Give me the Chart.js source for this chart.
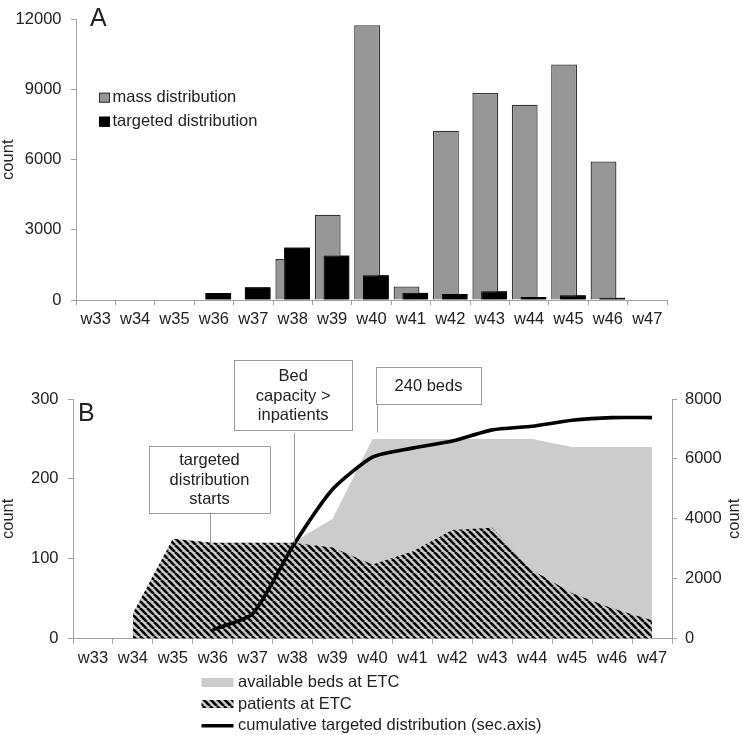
<!DOCTYPE html>
<html><head><meta charset="utf-8">
<script src="https://cdn.jsdelivr.net/npm/chart.js@4.4.1/dist/chart.umd.min.js"></script>
<style>
html,body{margin:0;padding:0;background:#fff;width:743px;height:735px;overflow:hidden}
#a{position:absolute;left:0;top:0}
#b{position:absolute;left:0;top:335px}
</style></head><body>
<canvas id="a" width="743" height="335"></canvas>
<canvas id="b" width="743" height="400"></canvas>
<script>
// ---------- data ----------
const weeks = ['w33','w34','w35','w36','w37','w38','w39','w40','w41','w42','w43','w44','w45','w46','w47'];
const massDistribution     = [null,null,null,null,null,1750,3650,11750,580,7240,8850,8350,10075,5920,null];
const targetedDistribution = [null,null,null,300,540,2250,1900,1060,310,260,370,130,200,100,null];
const availableBeds        = [null,30,120,120,120,120,150,250,250,250,250,250,240,240,240];
const patientsAtETC        = [null,32,125,120,120,120,114,93,109,136,139,86,57,38,23];
const cumulativeTargeted   = [null,null,null,300,830,3080,4990,6060,6360,6600,6970,7090,7290,7380,7380];
const yTicksA  = [0,3000,6000,9000,12000];
const yTicksB  = [0,100,200,300];
const y2TicksB = [0,2000,4000,6000,8000];

const FONT = '"Liberation Sans", Arial, sans-serif';
const FS = 16.5;
const TXT = '#222';
const AXIS = '#a3a3a3';
Chart.defaults.font.family = FONT;
Chart.defaults.font.size = FS;
Chart.defaults.color = TXT;

// hatch pattern
function makeHatch(){
  const P = 7;
  const c = document.createElement('canvas'); c.width = P; c.height = P;
  const g = c.getContext('2d');
  g.fillStyle = '#cacaca'; g.fillRect(0,0,P,P);
  g.strokeStyle = '#000'; g.lineWidth = 2.6;
  for (const o of [-P,0,P]) { g.beginPath(); g.moveTo(o,0); g.lineTo(o+P,P); g.stroke(); }
  return g.createPattern(c,'repeat');
}
const hatch = makeHatch();

function setTicks(arr){ return s => { s.ticks = arr.map(v => ({value:v})); }; }
const plain = v => String(v);
const gridOpts = {drawOnChartArea:false, color:AXIS, tickLength:5, lineWidth:1};

// ---------- Chart A ----------
const OFF_B = 335;
new Chart(document.getElementById('a'), {
  type:'bar',
  data:{labels:weeks, datasets:[
    {label:'mass distribution', data:massDistribution, backgroundColor:'#969696', borderColor:'#333', borderWidth:1.3,
     categoryPercentage:0.445, barPercentage:2.95},
    {label:'targeted distribution', data:targetedDistribution, backgroundColor:'#000', borderColor:'#000', borderWidth:1,
     categoryPercentage:0.445, barPercentage:2.95}
  ]},
  options:{
    responsive:false, animation:false, devicePixelRatio:1,
    layout:{autoPadding:false, padding:{top:7, left:0, right:76, bottom:0}},
    plugins:{legend:{display:false}, tooltip:{enabled:false}},
    scales:{
      x:{offset:true, grid:{...gridOpts, offset:true}, border:{color:AXIS},
         ticks:{padding:5, color:TXT, maxRotation:0, autoSkip:false},
         afterFit:s=>{s.height=35;}},
      y:{min:0, max:12000, grid:gridOpts, border:{color:AXIS},
         ticks:{padding:9.5, color:TXT, callback:plain}, afterBuildTicks:setTicks(yTicksA),
         title:{display:true, text:'count', color:TXT, padding:0, font:{size:FS, lineHeight:1}},
         afterFit:s=>{s.width=76;}}
    }
  },
  plugins:[{
    id:'topA',
    afterDatasetsDraw(chart){
      // targeted bars overlap the mass bars in front
      chart.getDatasetMeta(1).controller.draw();
    },
    afterDraw(chart){
      const ctx = chart.ctx; ctx.save();
      ctx.fillStyle = TXT; ctx.font = '25px ' + FONT; ctx.textBaseline = 'alphabetic';
      ctx.fillText('A', 90, 26);
      // legend
      const items = [['mass distribution','#969696','#333',97.7],['targeted distribution','#000','#000',121.7]];
      ctx.font = FS + 'px ' + FONT; ctx.textBaseline = 'middle';
      for (const [t,f,s,y] of items){
        ctx.fillStyle = f; ctx.fillRect(99, y-5, 11, 10);
        ctx.strokeStyle = s; ctx.lineWidth = 1; ctx.strokeRect(99.5, y-4.5, 10, 9);
        ctx.fillStyle = TXT; ctx.fillText(t, 112.5, y);
      }
      ctx.restore();
    }
  }]
});

// ---------- Chart B ----------
const boxes = [
  {lines:['targeted','distribution','starts'], x1:149, y1:445.7, x2:270, y2:512.3, lx:210, ly:512.3, anchor:120},
  {lines:['Bed','capacity >','inpatients'], x1:234, y1:360, x2:352.3, y2:430, lx:294, ly:433, anchor:120},
  {lines:['240 beds'], x1:376, y1:367.3, x2:481, y2:404, lx:376.5, ly:404, anchor:258}
];

new Chart(document.getElementById('b'), {
  type:'line',
  data:{labels:weeks, datasets:[
    {label:'cumulative targeted distribution (sec.axis)', data:cumulativeTargeted, yAxisID:'y2',
     borderColor:'#000', borderWidth:3.6, pointRadius:0, tension:0.2, fill:false, order:0},
    {label:'patients at ETC', data:patientsAtETC, yAxisID:'y', borderColor:'rgba(0,0,0,0)', borderWidth:0,
     pointRadius:0, tension:0, fill:'origin', backgroundColor:hatch, order:1},
    {label:'available beds at ETC', data:availableBeds, yAxisID:'y', borderColor:'rgba(0,0,0,0)', borderWidth:0,
     pointRadius:0, tension:0, fill:'origin', backgroundColor:'#cccccc', order:2}
  ]},
  options:{
    responsive:false, animation:false, devicePixelRatio:1,
    layout:{autoPadding:false, padding:{top:64, left:0, right:0, bottom:0}},
    plugins:{legend:{display:false}, tooltip:{enabled:false}},
    scales:{
      x:{offset:true, grid:{...gridOpts, offset:true}, border:{color:AXIS},
         ticks:{padding:5, color:TXT, maxRotation:0, autoSkip:false},
         afterFit:s=>{s.height=96.3;}},
      y:{position:'left', min:0, max:300, grid:gridOpts, border:{color:AXIS},
         ticks:{padding:9.5, color:TXT, callback:plain}, afterBuildTicks:setTicks(yTicksB),
         title:{display:true, text:'count', color:TXT, padding:0, font:{size:FS, lineHeight:1}},
         afterFit:s=>{s.width=73;}},
      y2:{position:'right', min:0, max:8000, grid:gridOpts, border:{color:AXIS},
         ticks:{padding:8, color:TXT, callback:plain}, afterBuildTicks:setTicks(y2TicksB),
         afterFit:s=>{s.width=71;}}
    }
  },
  plugins:[{
    id:'decoB',
    afterDraw(chart){
      const ctx = chart.ctx; const ys = chart.scales.y; ctx.save();
      // panel letter
      ctx.fillStyle = TXT; ctx.font = '25px ' + FONT; ctx.textBaseline = 'alphabetic';
      ctx.fillText('B', 78, 421 - OFF_B);
      // right axis title
      ctx.font = FS + 'px ' + FONT;
      ctx.save(); ctx.translate(734, (chart.chartArea.top + chart.chartArea.bottom)/2);
      ctx.rotate(-Math.PI/2); ctx.textAlign = 'center'; ctx.textBaseline = 'middle';
      ctx.fillText('count', 0, 0); ctx.restore();
      // annotation boxes
      for (const b of boxes){
        ctx.strokeStyle = '#9a9a9a'; ctx.lineWidth = 1;
        ctx.beginPath();
        ctx.moveTo(Math.round(b.lx)+0.5, b.ly - OFF_B);
        ctx.lineTo(Math.round(b.lx)+0.5, ys.getPixelForValue(b.anchor));
        ctx.stroke();
        ctx.fillStyle = '#fff';
        ctx.fillRect(b.x1, b.y1 - OFF_B, b.x2-b.x1, b.y2-b.y1);
        ctx.strokeRect(Math.round(b.x1)+0.5, Math.round(b.y1 - OFF_B)+0.5, Math.round(b.x2-b.x1), Math.round(b.y2-b.y1));
        ctx.fillStyle = TXT; ctx.textAlign = 'center'; ctx.textBaseline = 'middle';
        const cx = (b.x1+b.x2)/2, cy = (b.y1+b.y2)/2 - OFF_B, lh = 19.3;
        b.lines.forEach((t,i)=>ctx.fillText(t, cx, cy + (i-(b.lines.length-1)/2)*lh + 1));
      }
      // legend
      ctx.textAlign = 'left'; ctx.textBaseline = 'middle';
      const lx = 201.5, lw = 32, tx = 238;
      ctx.fillStyle = '#cccccc'; ctx.fillRect(lx, 678 - OFF_B, lw, 9);
      ctx.fillStyle = hatch; ctx.fillRect(lx, 700 - OFF_B, lw, 8);
      ctx.strokeStyle = '#000'; ctx.lineWidth = 3.6; ctx.beginPath();
      ctx.moveTo(lx, 725.7 - OFF_B); ctx.lineTo(lx+lw, 725.7 - OFF_B); ctx.stroke();
      ctx.fillStyle = TXT;
      ctx.fillText('available beds at ETC', tx, 682.5 - OFF_B);
      ctx.fillText('patients at ETC', tx, 704 - OFF_B);
      ctx.fillText('cumulative targeted distribution (sec.axis)', tx, 725.7 - OFF_B);
      ctx.restore();
    }
  }]
});
</script>
</body></html>
